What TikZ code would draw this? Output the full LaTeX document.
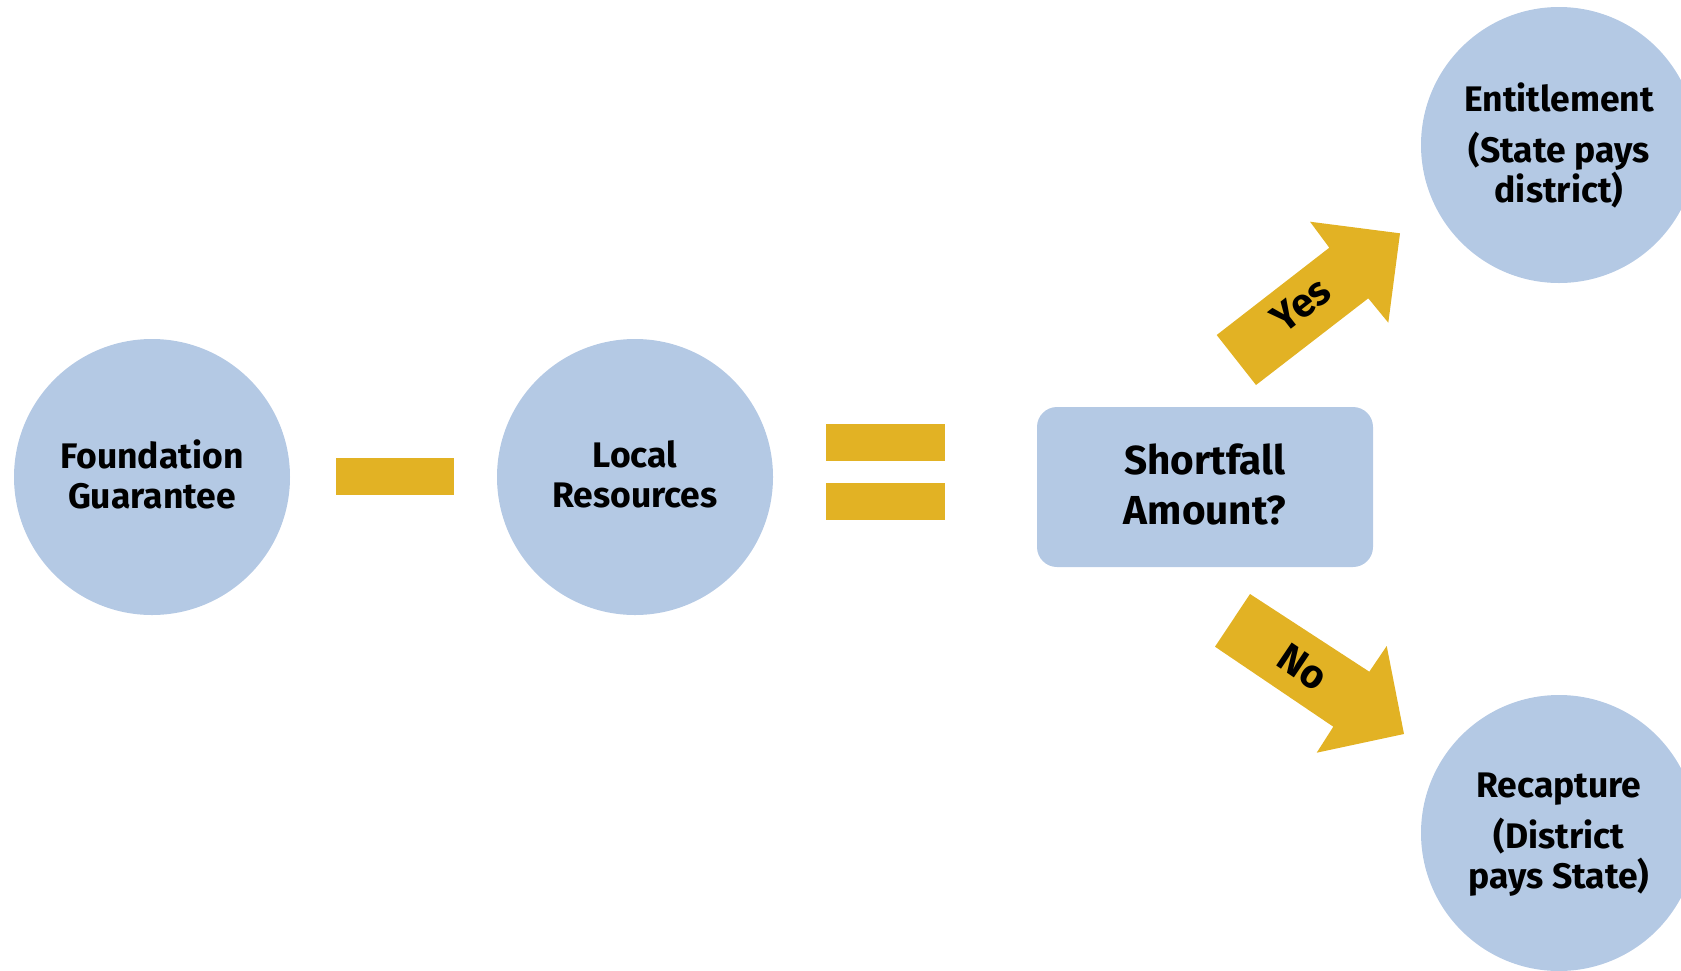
\documentclass[tikz,border=0pt]{standalone}
\usepackage{fontspec}
\setmainfont{Fira Sans}[BoldFont={Fira Sans Bold}]
\definecolor{cblue}{RGB}{180,201,228}
\definecolor{cgold}{RGB}{226,178,36}
\begin{document}
\begin{tikzpicture}[x=1pt,y=-1pt,
  bubble/.style={circle,fill=cblue,minimum size=276pt,inner sep=0pt,align=center,font=\bfseries\fontsize{35.5}{40}\selectfont},
  decision/.style={rounded corners=20pt,fill=cblue,minimum width=336pt,minimum height=160pt,align=center,font=\bfseries\fontsize{40.5}{50}\selectfont},
  bar/.style={fill=cgold},
  blockarrow/.style={fill=cgold},
  arrowtext/.style={font=\bfseries\fontsize{40}{44}\selectfont}]
\useasboundingbox (0,0) rectangle (1681,970);
\clip (0,0) rectangle (1681,970);
\fill[cblue] (152,477) circle[radius=138];
\node[bubble,fill=none] (found) at (152,474) {Foundation\\Guarantee};
\fill[cblue] (635,477) circle[radius=138];
\node[bubble,fill=none] (local) at (635,474) {Local\\Resources};
\node[decision] (short) at (1205,487) {};
\node[decision,fill=none] (shortt) at (1205,484) {Shortfall\\Amount?};
\node[bubble] (ent) at (1559,145) {Entitlement\\[11pt](State pays\\district)};
\fill[cblue] (1559,833) circle[radius=138];
\node[bubble,fill=none] (rec) at (1559,835) {Recapture\\[11pt](District\\pays State)};
% minus and equals
\fill[bar] (336,458) rectangle (454,495);
\fill[bar] (826,424) rectangle (945,461);
\fill[bar] (826,483) rectangle (945,520);
% Yes arrow
\fill[blockarrow] (1216.7,335) -- (1256,385) -- (1368.3,298.3) -- (1388.3,322.7) -- (1400,233.3) -- (1310,221.7) -- (1329.3,247.7) -- cycle;
\node[arrowtext,rotate=37.8] (yes) at (1301,305) {Yes};
% No arrow
\fill[blockarrow] (1215,646.7) -- (1250,594) -- (1369.3,671.7) -- (1386.7,646) -- (1404,734) -- (1316.7,752.7) -- (1333.3,726.7) -- cycle;
\node[arrowtext,rotate=-34] (no) at (1303,667) {No};
\end{tikzpicture}
\end{document}
